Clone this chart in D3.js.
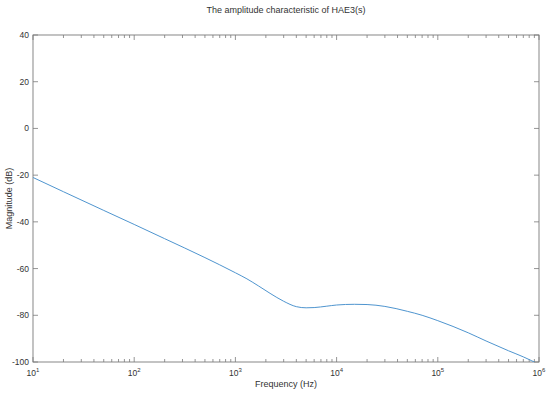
<!DOCTYPE html>
<html>
<head>
<meta charset="utf-8">
<script src="https://cdn.jsdelivr.net/npm/d3@7"></script>
<style>
  body { margin: 0; background: #fff; }
  text { font-family: "Liberation Sans", Arial, sans-serif; fill: #333; }
</style>
</head>
<body>
<div id="chart"></div>
<script>
// values
const freq = [10, 20, 50, 100, 200, 500, 700, 1000, 1300, 1700, 2200, 3000, 4000, 5000, 6000, 8000,
  10000, 15000, 20000, 30000, 50000, 70000, 100000, 200000, 300000, 500000, 700000, 1000000]
const mag = [-21.0, -27.1, -35.1, -41.1, -47.2, -55.3, -58.4, -61.8, -64.4, -67.5, -70.6, -74.0, -76.3, -76.8, -76.7, -76.1,
  -75.6, -75.3, -75.4, -76.2, -78.3, -80.0, -82.3, -87.5, -91.0, -95.2, -97.8, -101.0]
const yTicks = [40, 20, 0, -20, -40, -60, -80, -100]
const xDecades = [1, 2, 3, 4, 5, 6]

const margin = { top: 35, right: 11, bottom: 33, left: 33 }
const width = 550 - margin.left - margin.right
const height = 395 - margin.top - margin.bottom

const svg = d3.select("#chart").append("svg")
    .attr("width", 550)
    .attr("height", 395)
const g = svg.append("g")
    .attr("transform", "translate(" + margin.left + "," + margin.top + ")")

const x = d3.scaleLog().domain([10, 1e6]).range([0, width])
const y = d3.scaleLinear().domain([-100, 40]).range([height, 0])

const axisColor = "#7a7a7a"

// minor + major ticks, inside, on all four sides
const minor = []
xDecades.slice(0, -1).forEach(e => {
  for (let k = 2; k <= 9; k++) minor.push(k * Math.pow(10, e))
})
const majors = xDecades.map(e => Math.pow(10, e))

g.selectAll(".xminor")
  .data(minor.flatMap(v => [{ v, top: false }, { v, top: true }]))
  .join("line")
  .attr("x1", d => x(d.v)).attr("x2", d => x(d.v))
  .attr("y1", d => d.top ? 0 : height).attr("y2", d => d.top ? 3 : height - 3)
  .attr("stroke", axisColor).attr("stroke-width", 0.8)

g.selectAll(".xmajor")
  .data(majors.flatMap(v => [{ v, top: false }, { v, top: true }]))
  .join("line")
  .attr("x1", d => x(d.v)).attr("x2", d => x(d.v))
  .attr("y1", d => d.top ? 0 : height).attr("y2", d => d.top ? 5 : height - 5)
  .attr("stroke", axisColor).attr("stroke-width", 0.8)

g.selectAll(".ytick")
  .data(yTicks.flatMap(v => [{ v, right: false }, { v, right: true }]))
  .join("line")
  .attr("y1", d => y(d.v)).attr("y2", d => y(d.v))
  .attr("x1", d => d.right ? width : 0).attr("x2", d => d.right ? width - 5 : 5)
  .attr("stroke", axisColor).attr("stroke-width", 0.8)

// box
g.append("rect")
  .attr("width", width).attr("height", height)
  .attr("fill", "none").attr("stroke", axisColor).attr("stroke-width", 0.9)

// y labels
g.selectAll(".ylab")
  .data(yTicks)
  .join("text")
  .attr("x", -4)
  .attr("y", d => y(d))
  .attr("dy", "0.35em")
  .attr("text-anchor", "end")
  .attr("font-size", 8.5)
  .text(d => d)

// x labels 10^n
const xl = g.selectAll(".xlab")
  .data(xDecades)
  .join("text")
  .attr("x", d => x(Math.pow(10, d)))
  .attr("y", height + 14)
  .attr("text-anchor", "middle")
  .attr("font-size", 8.5)
xl.append("tspan").text("10")
xl.append("tspan").attr("dy", -4).attr("font-size", 6).text(d => d)

// data line
g.append("clipPath").attr("id", "clip")
  .append("rect").attr("width", width).attr("height", height)

const line = d3.line()
  .x((d, i) => x(freq[i]))
  .y(d => y(d))
  .curve(d3.curveMonotoneX)

g.append("path")
  .datum(mag)
  .attr("clip-path", "url(#clip)")
  .attr("d", line)
  .attr("fill", "none")
  .attr("stroke", "#4f95cf")
  .attr("stroke-width", 1)

// titles
svg.append("text")
  .attr("x", margin.left + width / 2)
  .attr("y", 13)
  .attr("text-anchor", "middle")
  .attr("font-size", 9)
  .text("The amplitude characteristic of HAE3(s)")

svg.append("text")
  .attr("x", margin.left + width / 2)
  .attr("y", 387)
  .attr("text-anchor", "middle")
  .attr("font-size", 9)
  .text("Frequency (Hz)")

svg.append("text")
  .attr("transform", "translate(12," + (margin.top + height / 2) + ") rotate(-90)")
  .attr("text-anchor", "middle")
  .attr("font-size", 9)
  .text("Magnitude (dB)")
</script>
</body>
</html>
